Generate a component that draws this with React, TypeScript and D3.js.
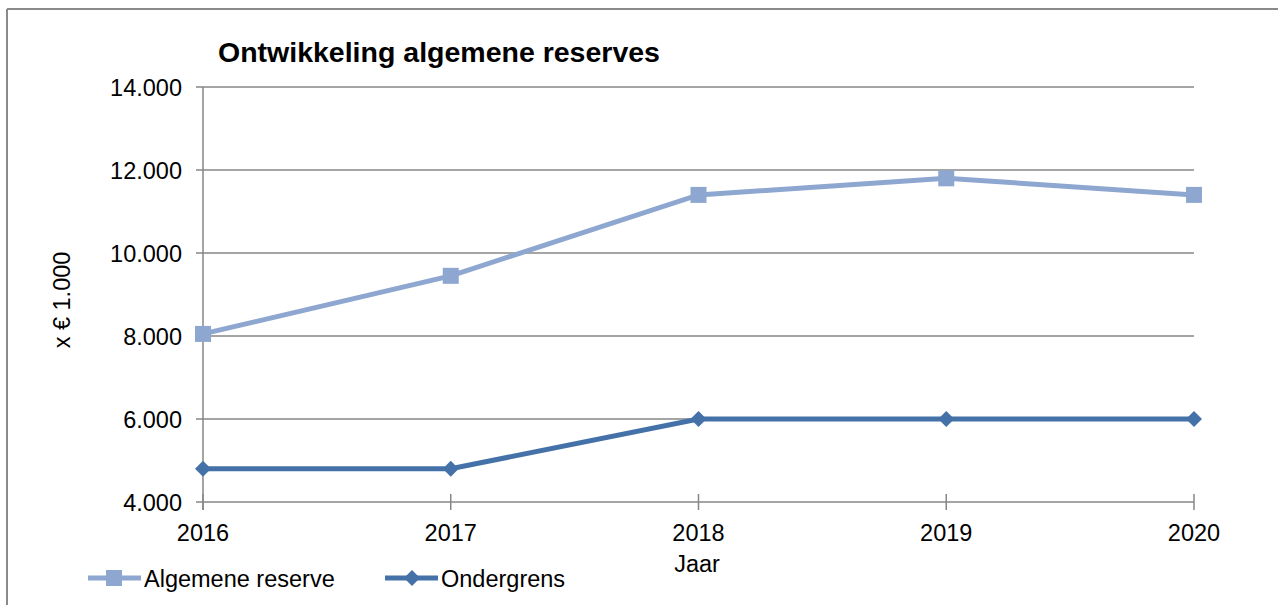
import React from "react";
import * as d3 from "d3";

const years = ["2016", "2017", "2018", "2019", "2020"];
const algemeneReserve = [8050, 9450, 11400, 11800, 11400];
const ondergrens = [4800, 4800, 6000, 6000, 6000];
const yTicks = [4000, 6000, 8000, 10000, 12000, 14000];
const seriesNames = ["Algemene reserve", "Ondergrens"];

const W = 1278;
const H = 605;
const FONT = "Liberation Sans, Arial, sans-serif";
const C_LIGHT = "#8EA7D0";
const C_DARK = "#4471A7";
const GRID = "#878787";
const FS = 23.5;

const fmt = (v: number) => d3.format(",.0f")(v).replace(/,/g, ".");

export default function App() {
  const x = d3.scalePoint<string>().domain(years).range([203, 1194]);
  const y = d3.scaleLinear().domain([4000, 14000]).range([502, 87]);

  const line = d3
    .line<number>()
    .x((_, i) => x(years[i]) as number)
    .y((d) => y(d));

  const diamond = (cx: number, cy: number, r: number) =>
    `M${cx},${cy - r}L${cx + r},${cy}L${cx},${cy + r}L${cx - r},${cy}Z`;

  return (
    <svg
      width={W}
      height={H}
      style={{ position: "absolute", left: 0, top: 0, background: "#fff" }}
      fontFamily={FONT}
    >
      {/* outer frame */}
      <line x1={7} y1={9} x2={W} y2={9} stroke="#8a8a8a" strokeWidth={2} />
      <line x1={7} y1={9} x2={7} y2={H} stroke="#8a8a8a" strokeWidth={2} />

      {/* title */}
      <text x={218} y={62} fontSize={28.5} fontWeight="bold" fill="#000">
        Ontwikkeling algemene reserves
      </text>

      {/* gridlines */}
      {yTicks.map((t) => (
        <g key={t}>
          <line x1={196} x2={1194} y1={y(t)} y2={y(t)} stroke={GRID} strokeWidth={1.5} />
          <text x={182} y={y(t) + 8.5} textAnchor="end" fontSize={FS} fill="#000">
            {fmt(t)}
          </text>
        </g>
      ))}

      {/* y axis */}
      <line x1={203} x2={203} y1={87} y2={510} stroke={GRID} strokeWidth={1.5} />
      {/* x ticks */}
      {years.map((yr) => (
        <g key={yr}>
          <line x1={x(yr)} x2={x(yr)} y1={494} y2={510} stroke={GRID} strokeWidth={1.5} />
          <text x={x(yr)} y={541} textAnchor="middle" fontSize={FS} fill="#000">
            {yr}
          </text>
        </g>
      ))}

      {/* axis titles */}
      <text x={697} y={572} textAnchor="middle" fontSize={FS} fill="#000">
        Jaar
      </text>
      <text
        transform={`translate(70,300) rotate(-90)`}
        textAnchor="middle"
        fontSize={FS}
        fill="#000"
      >
        x € 1.000
      </text>

      {/* series */}
      <path d={line(algemeneReserve) || ""} fill="none" stroke={C_LIGHT} strokeWidth={5} />
      {algemeneReserve.map((v, i) => (
        <rect
          key={i}
          x={(x(years[i]) as number) - 8}
          y={y(v) - 8}
          width={16}
          height={16}
          fill={C_LIGHT}
        />
      ))}
      <path d={line(ondergrens) || ""} fill="none" stroke={C_DARK} strokeWidth={5} />
      {ondergrens.map((v, i) => (
        <path key={i} d={diamond(x(years[i]) as number, y(v), 8)} fill={C_DARK} />
      ))}

      {/* legend */}
      <g>
        <line x1={88} x2={141} y1={578} y2={578} stroke={C_LIGHT} strokeWidth={5} />
        <rect x={106} y={570} width={16} height={16} fill={C_LIGHT} />
        <text x={144} y={587} fontSize={FS} fill="#000">
          {seriesNames[0]}
        </text>
        <line x1={385} x2={438} y1={578} y2={578} stroke={C_DARK} strokeWidth={5} />
        <path d={diamond(412, 578, 8)} fill={C_DARK} />
        <text x={441} y={587} fontSize={FS} fill="#000">
          {seriesNames[1]}
        </text>
      </g>
    </svg>
  );
}
